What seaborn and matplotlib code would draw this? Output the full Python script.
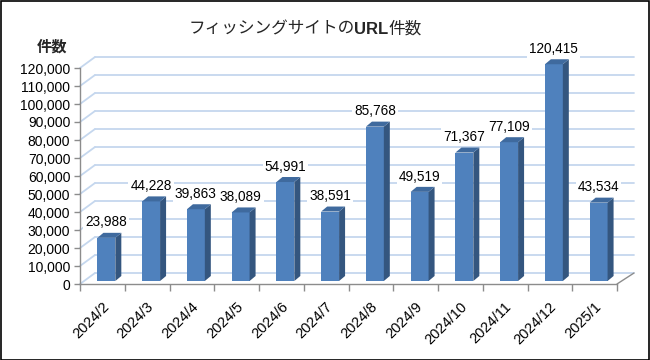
import numpy as np
import pandas as pd
import seaborn as sns
import matplotlib
matplotlib.use("Agg")
import matplotlib.pyplot as plt
from matplotlib.transforms import ScaledTranslation
from matplotlib.patches import Polygon, Rectangle

# ---- data ----
months = ["2024/2", "2024/3", "2024/4", "2024/5", "2024/6", "2024/7",
          "2024/8", "2024/9", "2024/10", "2024/11", "2024/12", "2025/1"]
counts = [23988, 44228, 39863, 38089, 54991, 38591,
          85768, 49519, 71367, 77109, 120415, 43534]
yticks = list(range(0, 120001, 10000))
title_parts = ["フィッシングサイトの", "URL", "件数"]
y_label = "件数"

sns.set_theme(style="white")
plt.rcParams["font.family"] = ["Liberation Sans", "Noto Sans CJK JP", "DejaVu Sans"]

W, H = 650, 360
fig = plt.figure(figsize=(W / 100, H / 100), dpi=100)
fig.patch.set_facecolor("white")

# front plane of the 3D box
ax = fig.add_axes([80 / W, (H - 284) / H, 537 / W, 216 / H])
ax.set_facecolor("none")

front = "#4F81BD"
side = "#34567F"
topc = "#3F6A9E"
grid_c = "#C5D7EE"
axis_c = "#8C8C8C"

df = pd.DataFrame({"month": months, "count": counts})
sns.barplot(data=df, x="month", y="count", color=front, width=0.4,
            saturation=1, ax=ax, edgecolor="none", zorder=3)
ax.set_xlim(-0.5, len(months) - 0.5)
ax.set_ylim(0, 120000)

n = len(months)
pxx = n / 537.0          # data units per pixel in x
pxy = 120000 / 216.0     # data units per pixel in y


def shift(dx, dy):
    return ax.transData + ScaledTranslation(dx / 100, dy / 100, fig.dpi_scale_trans)


# back wall + left wall grid lines
wall_dx, wall_dy = 15, 11
for yv in yticks:
    ax.plot([-0.5, n - 0.5 + 1.5 * pxx], [yv, yv], transform=shift(wall_dx, wall_dy),
            color=grid_c, lw=1.3, clip_on=False, zorder=0)
    ax.plot([-0.5, -0.5 + wall_dx * pxx], [yv, yv + wall_dy * pxy],
            color=grid_c, lw=1.3, clip_on=False, zorder=0)
# right floor edge
ax.plot([n - 0.5, n - 0.5 + 17 * pxx], [0, 11 * pxy], color=axis_c, lw=1,
        clip_on=False, zorder=1)

# 3D bars
bar_shift = shift(4, 3)
dpx, dpy = 6 * pxx, 5 * pxy
for p, v in zip(ax.patches, counts):
    p.set_transform(bar_shift)
    p.set_clip_on(False)
    x0 = p.get_x()
    x1 = x0 + p.get_width()
    h = p.get_height()
    ax.add_patch(Polygon([(x1, 0), (x1 + dpx, dpy), (x1 + dpx, h + dpy), (x1, h)],
                         closed=True, fc=side, ec="none", transform=bar_shift,
                         zorder=3, clip_on=False))
    ax.add_patch(Polygon([(x0, h), (x1, h), (x1 + dpx, h + dpy), (x0 + dpx, h + dpy)],
                         closed=True, fc=topc, ec="none", transform=bar_shift,
                         zorder=3, clip_on=False))
    ax.annotate(f"{v:,}", xy=(x0 + p.get_width() / 2, h), xycoords=bar_shift,
                xytext=(0, 6), textcoords="offset points", ha="center", va="bottom",
                fontsize=9.8, color="black", zorder=5, annotation_clip=False,
                bbox=dict(fc="white", ec="none", pad=1.5))

# axes styling
for s in ["top", "right"]:
    ax.spines[s].set_visible(False)
for s in ["left", "bottom"]:
    ax.spines[s].set_color(axis_c)
    ax.spines[s].set_linewidth(1)
ax.grid(False)
ax.set_xlabel("")
ax.set_ylabel("")
ax.set_yticks(yticks)
ax.set_yticklabels([f"{t:,}" for t in yticks])
ax.tick_params(axis="y", length=4, width=1, color=axis_c, labelsize=10, pad=3,
               labelcolor="black", left=True)
ax.set_xticks(np.arange(n) + 0.1)
ax.set_xticklabels(months, rotation=45, ha="right", va="center",
                   rotation_mode="anchor", fontsize=10.5)
ax.tick_params(axis="x", length=0, pad=15, labelcolor="black")
ax.set_xticks(np.arange(-0.5, n, 1.0), minor=True)
ax.tick_params(axis="x", which="minor", length=5, width=1, color=axis_c, bottom=True)

# y axis title
fig.text(52 / W, 1 - 47 / H, y_label, ha="center", va="center",
         fontsize=11, fontweight="bold")

# chart title (mixed weights)
fig.canvas.draw()
r = fig.canvas.get_renderer()
ty = 1 - 29 / H
t1 = fig.text(0, ty, title_parts[0], ha="left", va="center", fontsize=12)
t2 = fig.text(0, ty, title_parts[1], ha="left", va="center", fontsize=12, fontweight="bold")
t3 = fig.text(0, ty, title_parts[2], ha="left", va="center", fontsize=12)
ws = [t.get_window_extent(r).width for t in (t1, t2, t3)]
x = 305 - sum(ws) / 2
for t, w in zip((t1, t2, t3), ws):
    t.set_x(x / W)
    x += w

# outer border
fig.patches.append(Rectangle((0.5 / W, 0.5 / H), 1 - 1.5 / W, 1 - 1.5 / H,
                             transform=fig.transFigure, fill=False,
                             ec="black", lw=1.2))

fig.savefig("out.png", dpi=100)
